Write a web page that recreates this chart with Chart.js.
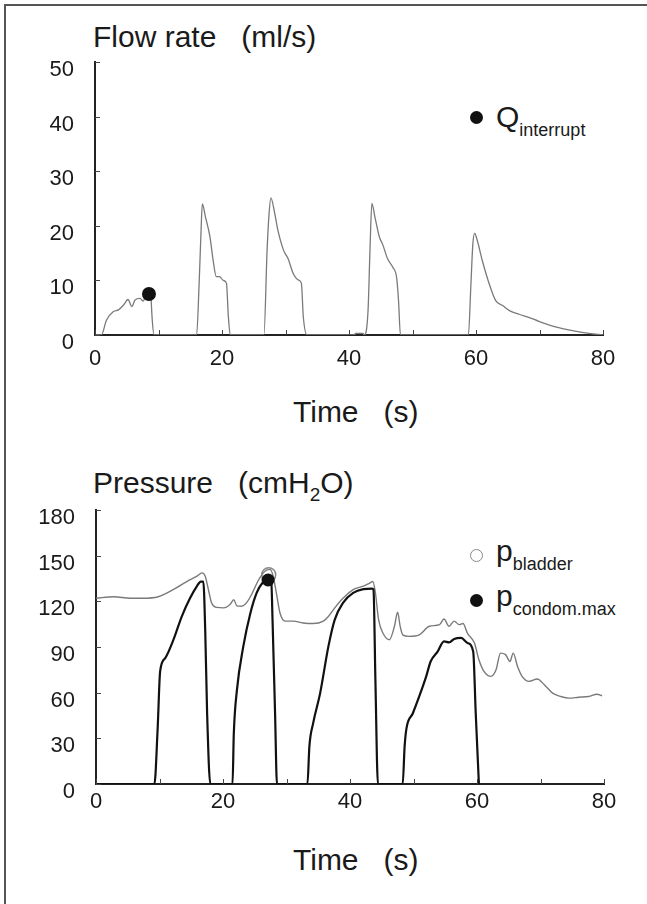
<!DOCTYPE html>
<html>
<head>
<meta charset="utf-8">
<script src="https://cdn.jsdelivr.net/npm/chart.js@4.4.0/dist/chart.umd.min.js"></script>
<style>
  body { margin: 0; background: #fff; width: 647px; height: 904px; overflow: hidden; position: relative;
         font-family: "Liberation Sans", Arial, sans-serif; color: #1a1a1a; }
  .frame { position: absolute; left: 4px; top: 4px; width: 660px; height: 920px;
           border-top: 2px solid #555; border-left: 2px solid #555; }
  canvas { position: absolute; left: 0; }
  .lbl { position: absolute; font-size: 30px; line-height: 1; white-space: pre; }
  .lbl sub { font-size: 19px; vertical-align: -8px; line-height: 0; }
  .leg { position: absolute; font-size: 30px; line-height: 1; white-space: pre; }
  .leg sub { font-size: 18px; vertical-align: -9px; line-height: 0; }
  .dot { position: absolute; width: 13px; height: 13px; border-radius: 50%; background: #111; }
  .ring { position: absolute; width: 11px; height: 11px; border-radius: 50%; border: 1.5px solid #888; background: #fff; }
</style>
</head>
<body>
<div class="frame"></div>

<div class="lbl" style="left:93px; top:22px">Flow rate   (ml/s)</div>
<div class="lbl" style="left:293px; top:397px">Time   (s)</div>
<div class="lbl" style="left:93px; top:468px">Pressure   (cmH<sub>2</sub>O)</div>
<div class="lbl" style="left:293px; top:845px">Time   (s)</div>

<div class="dot" style="left:470px; top:111px"></div>
<div class="leg" style="left:496px; top:102px">Q<sub>interrupt</sub></div>
<div class="ring" style="left:470px; top:549px"></div>
<div class="leg" style="left:496px; top:536px">p<sub>bladder</sub></div>
<div class="dot" style="left:470px; top:594px"></div>
<div class="leg" style="left:496px; top:581px">p<sub>condom.max</sub></div>

<canvas id="flowChart" width="647" height="400" style="top:0"></canvas>
<canvas id="pressChart" width="647" height="400" style="top:450px"></canvas>

<script>
// flow trace (s, ml/s)
const flowT = [0, 1.0, 1.8, 2.9, 3.7, 4.5, 5.2, 5.8, 6.3, 7.1, 7.6, 7.9, 8.6, 8.8, 9.0, 9.3,
  16.0, 16.4, 16.7, 16.9, 17.4, 18.1, 18.6, 19.1, 19.6, 20.2, 20.7, 21.0, 21.3,
  26.6, 27.1, 27.4, 27.7, 28.3, 28.8, 29.7, 30.4, 31.2, 32.0, 32.5, 32.8, 33.4,
  40.9, 41.0, 42.2, 42.4, 43.0, 43.3, 43.6, 44.1, 44.8, 45.3, 46.1, 46.9, 47.5, 47.8, 48.1,
  58.8, 59.2, 59.5, 59.8, 60.2, 61.0, 62.1, 63.1, 64.2, 65.2, 66.8, 68.4, 69.9, 72.5, 75.2, 77.8, 80];
const flowV = [0, 0, 2.7, 4.3, 4.6, 5.5, 6.5, 5.2, 6.4, 6.7, 6.2, 7.0, 8.2, 7.2, 3.0, 0,
  0, 9.5, 19, 24.0, 21.6, 18, 13.7, 10.7, 10.7, 10.0, 9.5, 3.4, 0,
  0, 15.5, 22, 25.1, 22.3, 19.2, 15.5, 14.0, 11.3, 10.1, 9.5, 3.4, 0,
  0, 0.3, 0.3, 0, 4.5, 15.4, 24.1, 21.5, 17.9, 16.6, 13.9, 12.4, 10.5, 6.3, 0,
  0, 9.3, 16.6, 18.6, 17.3, 13.6, 9.3, 6.3, 5.4, 4.5, 3.8, 3.2, 2.5, 1.5, 0.8, 0.3, 0];
const qInterrupt = [{ x: 8.5, y: 7.5 }];

// bladder pressure (s, cmH2O)
const bladderT = [0, 2.8, 5.4, 7.5, 9.8, 11.2, 12.7, 14.3, 15.9, 16.7, 17.2, 17.7, 18.2, 19.0, 20.1, 21.1,
  21.7, 22.2, 22.9, 23.7, 24.5, 25.6, 26.6, 27.4, 27.9, 28.4, 29.0, 29.8, 31.1, 32.6, 34.2, 35.8,
  36.6, 37.6, 38.9, 40.5, 42.1, 43.1, 43.6, 44.0, 44.5, 45.2, 46.2, 47.0, 47.5, 47.9, 48.3, 49.3,
  50.9, 52.5, 54.1, 54.8, 55.6, 56.4, 57.2, 57.8, 58.5, 59.6, 60.3, 61.1, 62.2, 63.0, 63.7, 64.5,
  65.2, 65.7, 66.4, 67.1, 68.2, 69.5, 70.6, 71.9, 73.2, 74.5, 76.0, 77.6, 78.9, 79.7];
const bladderV = [122, 123, 122, 122, 123, 125.5, 129, 133, 136.5, 138.7, 136.5, 127.7, 119, 116, 115.7, 117.9,
  121, 117, 116.8, 119, 124.5, 134, 139.8, 141, 136.5, 125.5, 112, 107, 107, 105.8, 105.4, 107,
  110, 115.7, 122, 127.7, 130, 132, 133, 125.5, 108, 99, 94.8, 103.6, 112.8, 103.6, 98, 97,
  98, 103.6, 104.7, 108.4, 103.6, 107, 104.7, 105.4, 99, 92.6, 81.6, 74, 70.7, 75, 86, 85,
  80.5, 86, 77, 70.7, 67.4, 69, 65.2, 59.7, 57.5, 56.4, 57, 57.5, 59, 58];

// condom pressure (s, cmH2O)
const condomT = [0, 9.2, 9.7, 10.1, 10.9, 12.2, 13.5, 14.8, 15.9, 16.5, 16.9, 17.2, 17.5, 18.0,
  21.5, 21.7, 22.2, 23.2, 24.3, 25.3, 26.2, 27.1, 27.6, 27.8, 28.2, 28.5,
  33.3, 33.6, 34.2, 35.3, 36.6, 37.6, 38.9, 40.5, 42.1, 43.5, 43.7, 44.0, 44.4,
  48.3, 48.6, 48.9, 49.9, 50.9, 52.0, 52.7, 53.8, 54.8, 55.6, 56.4, 57.5, 58.5, 59.4, 59.8, 60.3];
const condomV = [0, 0, 35.6, 74, 82.7, 94.8, 110, 122, 130, 133, 133, 101, 46.5, 0,
  0, 33, 62, 90.4, 112, 125.5, 132, 134.3, 133, 108, 46.5, 0,
  0, 24.6, 40, 59.7, 90.4, 108, 119, 125.5, 128, 128.4, 127.7, 68.5, 0,
  0, 24.6, 36.7, 46.5, 57.5, 70.7, 80.5, 87, 93.7, 93, 95.3, 96, 92.6, 87, 46.5, 0];
const pBladderMax = [{ x: 27.2, y: 137.5 }];
const pCondomMax = [{ x: 27.1, y: 134 }];

const toXY = (t, v) => t.map((x, i) => ({ x: x, y: v[i] }));

// short inward ticks on both axes
const innerTicks = {
  id: 'innerTicks',
  afterDraw(chart) {
    const ctx = chart.ctx, a = chart.chartArea;
    const xs = chart.scales.x, ys = chart.scales.y;
    ctx.save();
    ctx.strokeStyle = '#444';
    ctx.lineWidth = 1;
    ctx.beginPath();
    xs.ticks.forEach(t => {
      const px = Math.round(xs.getPixelForValue(t.value)) + 0.5;
      ctx.moveTo(px, a.bottom); ctx.lineTo(px, a.bottom - 5);
    });
    ys.ticks.forEach(t => {
      const py = Math.round(ys.getPixelForValue(t.value)) + 0.5;
      ctx.moveTo(a.left, py); ctx.lineTo(a.left + 5, py);
    });
    ctx.stroke();
    ctx.restore();
  }
};

function axes(yMax, yStep, xPad, yLeft, xHeight) {
  return {
    x: {
      type: 'linear', min: 0, max: 80,
      afterFit(s) { s.height = xHeight; },
      grid: { display: false, drawTicks: false },
      border: { display: true, color: '#222', width: 2 },
      ticks: {
        stepSize: 10, padding: xPad, color: '#1a1a1a', maxRotation: 0,
        font: { family: '"Liberation Sans", Arial', size: 22 },
        callback: v => (v % 20 === 0 ? v : '')
      }
    },
    y: {
      min: 0, max: yMax,
      afterFit(s) { s.width = yLeft; },
      grid: { display: false, drawTicks: false },
      border: { display: true, color: '#222', width: 2 },
      ticks: {
        stepSize: yStep, padding: 21, labelOffset: 8, color: '#1a1a1a',
        font: { family: '"Liberation Sans", Arial', size: 22 }
      }
    }
  };
}

const common = {
  responsive: false,
  animation: false,
  plugins: { legend: { display: false }, tooltip: { enabled: false } },
  elements: { point: { radius: 0 }, line: { cubicInterpolationMode: 'monotone' } }
};

new Chart(document.getElementById('flowChart'), {
  type: 'line',
  data: {
    datasets: [
      { data: qInterrupt, showLine: false, pointRadius: 7, pointBackgroundColor: '#111', pointBorderWidth: 0 },
      { data: toXY(flowT, flowV), borderColor: '#7a7a7a', borderWidth: 1.3 }
    ]
  },
  options: Object.assign({}, common, {
    layout: { padding: { top: 62, right: 44, left: 0, bottom: 0 } },
    scales: axes(50, 10, 11, 95, 65)
  }),
  plugins: [innerTicks]
});

new Chart(document.getElementById('pressChart'), {
  type: 'line',
  data: {
    datasets: [
      { data: pCondomMax, showLine: false, pointRadius: 6.5, pointBackgroundColor: '#111', pointBorderWidth: 0 },
      { data: toXY(condomT, condomV), borderColor: '#111', borderWidth: 2.2 },
      { data: toXY(bladderT, bladderV), borderColor: '#7a7a7a', borderWidth: 1.4 },
      { data: pBladderMax, showLine: false, pointRadius: 7, pointBackgroundColor: 'rgba(255,255,255,0)', pointBorderColor: '#888', pointBorderWidth: 1.5 }
    ]
  },
  options: Object.assign({}, common, {
    layout: { padding: { top: 60, right: 43, left: 0, bottom: 0 } },
    scales: axes(180, 30, 5, 96, 66)
  }),
  plugins: [innerTicks]
});
</script>
</body>
</html>
